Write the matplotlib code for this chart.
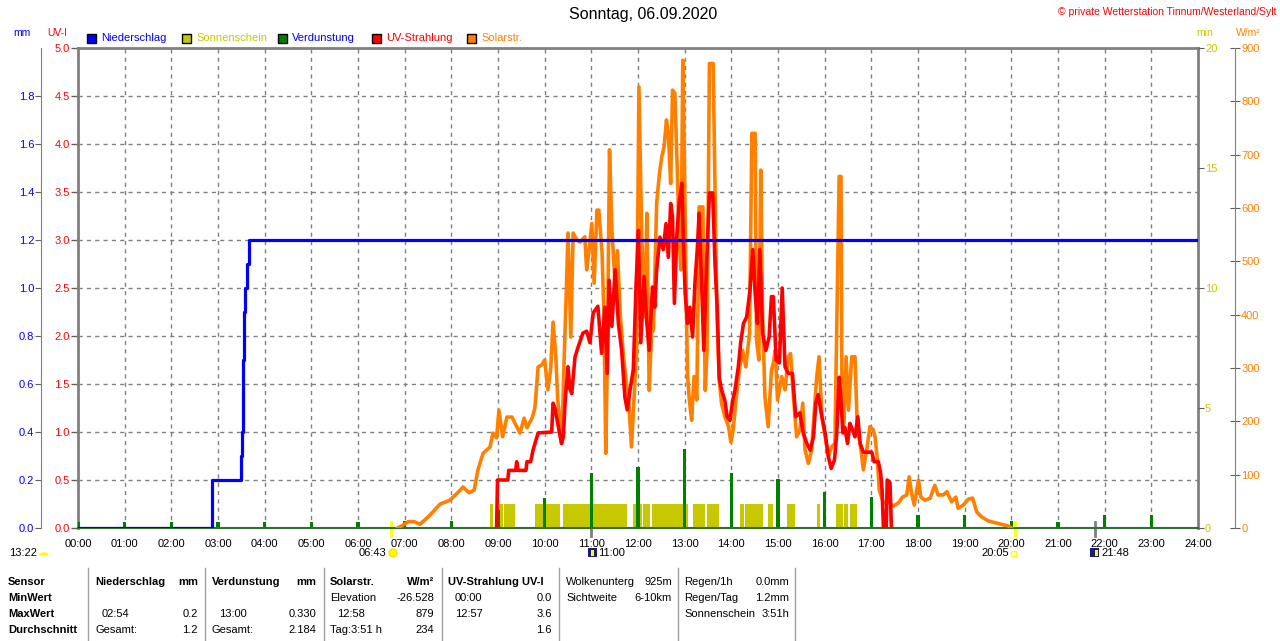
import matplotlib
matplotlib.use('Agg')
import matplotlib.pyplot as plt
import matplotlib.patches as mpatches

plt.rcParams['font.family'] = ['Liberation Sans', 'DejaVu Sans']

# --- Figure geometry (pixels) ---
W, H = 1280, 641
PLOT_L, PLOT_R, PLOT_T, PLOT_B = 78, 1198, 48, 528

# --- Data ---
title = 'Sonntag, 06.09.2020'
copyright_text = '\u00a9 private Wetterstation Tinnum/Westerland/Sylt'
hour_ticks = list(range(25))
hour_labels = [f'{h:02d}:00' for h in hour_ticks]

legend_labels = ['Niederschlag', 'Sonnenschein', 'Verdunstung', 'UV-Strahlung', 'Solarstr.']

# precipitation (mm, cumulative)
rain_t = [0.0, 2.87, 3.486, 3.514, 3.529, 3.551, 3.579, 3.628, 3.658, 24.0]
rain_mm = [0.0, 0.2, 0.3, 0.4, 0.7, 0.9, 1.0, 1.1, 1.2, 1.2]

# evaporation (mm per hour)
evap_t = list(range(24))
evap_mm = [0.025, 0.025, 0.025, 0.025, 0.025, 0.025, 0.025, 0.03, 0.03, 0.075,
           0.125, 0.23, 0.254, 0.33, 0.23, 0.204, 0.15, 0.13, 0.054, 0.054,
           0.03, 0.025, 0.054, 0.054]

# sunshine (min) intervals
sun_start = [8.83, 9.02, 9.13, 9.79, 10.39, 11.89, 12.11, 12.30, 13.18, 13.48,
             14.19, 14.29, 14.79, 15.19, 15.84, 16.24, 16.41, 16.54]
sun_end = [8.89, 9.11, 9.36, 10.33, 11.76, 12.09, 12.26, 13.07, 13.44, 13.74,
           14.27, 14.68, 14.89, 15.36, 15.90, 16.39, 16.50, 16.69]
sun_min = [1] * len(sun_start)

# solar radiation (W/m2)
solar_t = [6.85, 6.92, 7.08, 7.2, 7.33, 7.54, 7.76, 7.97, 8.19, 8.25, 8.38, 8.49,
           8.57, 8.68, 8.83, 8.89, 8.97, 9.02, 9.10, 9.19, 9.30, 9.36, 9.47, 9.56,
           9.62, 9.73, 9.79, 9.86, 9.94, 10.0, 10.07, 10.13, 10.18, 10.24, 10.28,
           10.33, 10.37, 10.41, 10.46, 10.50, 10.56, 10.61, 10.69, 10.76, 10.86,
           10.90, 10.95, 11.01, 11.06, 11.12, 11.16, 11.23, 11.27, 11.31, 11.34,
           11.39, 11.44, 11.50, 11.56, 11.62, 11.68, 11.75, 11.80, 11.86, 11.97,
           12.02, 12.08, 12.15, 12.19, 12.24, 12.29, 12.33, 12.40, 12.46, 12.51,
           12.56, 12.61, 12.65, 12.70, 12.74, 12.79, 12.84, 12.88, 12.92, 12.96,
           12.99, 13.03, 13.06, 13.10, 13.15, 13.20, 13.26, 13.31, 13.39, 13.44,
           13.48, 13.53, 13.61, 13.65, 13.69, 13.74, 13.79, 13.86, 13.94, 13.99,
           14.04, 14.10, 14.17, 14.24, 14.31, 14.39, 14.44, 14.51, 14.54, 14.59,
           14.63, 14.67, 14.72, 14.79, 14.86, 14.90, 14.94, 14.99, 15.08, 15.15,
           15.22, 15.27, 15.33, 15.40, 15.47, 15.53, 15.58, 15.65, 15.72, 15.77,
           15.83, 15.88, 15.94, 16.01, 16.08, 16.15, 16.22, 16.28, 16.31, 16.35,
           16.37, 16.41, 16.46, 16.51, 16.58, 16.65, 16.70, 16.76, 16.83, 16.90,
           16.97, 17.04, 17.08, 17.13, 17.17, 17.26, 17.36, 17.47, 17.58, 17.67,
           17.76, 17.81, 17.86, 17.92, 18.01, 18.06, 18.15, 18.26, 18.36, 18.43,
           18.54, 18.62, 18.72, 18.81, 18.86, 18.97, 19.08, 19.17, 19.26, 19.36,
           19.51, 19.69, 19.83, 19.93, 20.0]
solar_w = [0, 3, 12, 12, 7, 24, 45, 52, 71, 77, 66, 71,
           109, 140, 152, 178, 169, 221, 171, 208, 208, 197, 178, 206,
           188, 206, 225, 302, 306, 315, 259, 300, 386, 321, 240,
           202, 159, 296, 433, 553, 358, 553, 540, 536, 546,
           484, 520, 571, 459, 596, 596, 516, 400, 140, 300,
           709, 560, 470, 520, 400, 330, 272, 240, 152, 333,
           827, 546, 396, 590, 258, 365, 371, 609, 665, 696,
           715, 765, 740, 646, 821, 815, 677, 546, 484, 877,
           715, 459, 290, 240, 202, 284, 240, 602, 602, 258,
           333, 871, 871, 634, 409, 277, 234, 209, 190, 161,
           184, 240, 296, 333, 302, 365, 740, 740, 352, 315,
           671, 396, 246, 190, 296, 309, 333, 240, 284, 259,
           321, 327, 246, 171, 184, 234, 146, 121, 146, 209,
           284, 321, 209, 171, 134, 152, 159, 490, 659, 659,
           271, 196, 321, 221, 321, 321, 184, 159, 109, 146,
           190, 184, 171, 127, 71, 47, 49, 41, 47, 58,
           62, 96, 66, 43, 90, 58, 52, 56, 80, 62,
           62, 68, 49, 58, 37, 43, 54, 56, 30, 21,
           13, 9, 6, 4, 0]

# UV index
uv_t = [8.97, 8.99, 9.21, 9.23, 9.38, 9.40, 9.43, 9.60, 9.62, 9.70, 9.75, 9.86,
        10.15, 10.18, 10.22, 10.27, 10.36, 10.40, 10.44, 10.50, 10.54, 10.58,
        10.65, 10.72, 10.82, 10.90, 10.97, 11.04, 11.14, 11.22, 11.29, 11.34,
        11.38, 11.44, 11.51, 11.58, 11.65, 11.72, 11.77, 11.83, 11.90, 11.96,
        12.01, 12.06, 12.13, 12.19, 12.24, 12.31, 12.36, 12.40, 12.47, 12.54,
        12.60, 12.65, 12.70, 12.74, 12.78, 12.83, 12.88, 12.94, 12.97, 13.01,
        13.06, 13.11, 13.17, 13.22, 13.27, 13.31, 13.37, 13.41, 13.47, 13.53,
        13.60, 13.65, 13.70, 13.74, 13.79, 13.86, 13.91, 13.97, 14.03, 14.08,
        14.15, 14.20, 14.26, 14.33, 14.40, 14.46, 14.51, 14.56, 14.61, 14.67,
        14.74, 14.81, 14.86, 14.90, 14.96, 15.03, 15.09, 15.15, 15.22, 15.31,
        15.38, 15.47, 15.54, 15.61, 15.69, 15.76, 15.81, 15.86, 15.94, 16.01,
        16.08, 16.14, 16.21, 16.26, 16.31, 16.35, 16.39, 16.43, 16.49, 16.54,
        16.60, 16.65, 16.71, 16.76, 16.83, 17.01, 17.06, 17.15, 17.20, 17.23,
        17.26, 17.32, 17.34, 17.40, 17.43]
uv_i = [0.0, 0.5, 0.5, 0.6, 0.6, 0.69, 0.6, 0.6, 0.69, 0.69, 0.81, 0.99,
        1.0, 1.3, 1.25, 1.12, 0.88, 0.95, 1.33, 1.68, 1.45, 1.4,
        1.78, 1.89, 2.03, 2.05, 1.93, 2.24, 2.31, 1.82, 2.3, 1.61,
        2.58, 2.1, 2.69, 2.13, 1.85, 1.36, 1.23, 1.44, 1.65, 2.55,
        3.1, 1.93, 2.62, 2.13, 1.85, 2.51, 2.3, 2.69, 3.03, 2.9,
        3.17, 2.82, 3.38, 3.24, 2.34, 3.03, 3.38, 3.59, 3.03, 2.45,
        2.13, 2.3, 1.99, 2.55, 2.9, 3.28, 2.45, 1.85, 2.76, 3.49,
        3.49, 2.76, 2.27, 1.57, 1.44, 1.33, 1.16, 1.12, 1.33, 1.44,
        1.68, 1.93, 2.13, 2.2, 2.48, 2.9, 2.45, 2.13, 2.9, 2.03,
        1.85, 1.99, 2.41, 2.41, 1.75, 1.72, 2.5, 1.68, 1.61, 1.61,
        1.16, 1.2, 0.99, 0.89, 0.81, 0.95, 1.3, 1.39, 1.16, 0.99,
        0.74, 0.62, 0.71, 0.99, 1.57, 1.33, 0.99, 1.05, 0.88, 1.09,
        1.02, 0.95, 1.16, 0.88, 0.79, 0.79, 0.69, 0.69, 0.57, 0.4,
        0.0, 0.0, 0.5, 0.47, 0.0]

# sun / moon events (hours) and labels
sunrise, sunset = 6.717, 20.083
moonrise, moonset = 11.0, 21.8
event_labels = ['13:22', '06:43', '11:00', '20:05', '21:48']

# statistics table
table_rows = ['Sensor', 'MinWert', 'MaxWert', 'Durchschnitt']
rain_stats = ['Niederschlag', 'mm', '', '', '02:54', '0.2', 'Gesamt:', '1.2']
evap_stats = ['Verdunstung', 'mm', '', '', '13:00', '0.330', 'Gesamt:', '2.184']
solar_stats = ['Solarstr.', 'W/m\u00b2', 'Elevation', '-26.528', '12:58', '879', 'Tag:3:51 h', '234']
uv_stats = ['UV-Strahlung UV-I', '', '00:00', '0.0', '12:57', '3.6', '', '1.6']
cloud_info = [('Wolkenunterg', '925m'), ('Sichtweite', '6-10km')]
rain_info = [('Regen/1h', '0.0mm'), ('Regen/Tag', '1.2mm'), ('Sonnenschein', '3:51h')]

BLUE, OLIVE, GREEN, RED, ORANGE = '#0000ff', '#c8c800', '#008000', '#ff0000', '#ff8000'
GRAY = '#808080'


def fx(px):
    return px / W


def fy(py):
    return 1 - py / H


def txt(x, y, s, ha='left', bold=False, color='black', size=8):
    fig.text(fx(x), fy(y), s, ha=ha, va='center', fontsize=size, color=color,
             fontweight='bold' if bold else 'normal')


fig = plt.figure(figsize=(W / 100, H / 100), dpi=100)
ax = fig.add_axes([fx(PLOT_L), fy(PLOT_B), (PLOT_R - PLOT_L) / W, (PLOT_B - PLOT_T) / H])

# --- main axis: UV scale, grid, frame ---
ax.set_xlim(0, 24)
ax.set_ylim(0, 5)
ax.set_xticks(hour_ticks)
ax.set_xticklabels(hour_labels)
ax.set_yticks([i * 0.5 for i in range(11)])
ax.set_yticklabels([f'{i * 0.5:.1f}' for i in range(11)])
ax.tick_params(axis='x', length=0, pad=8, labelsize=8)
ax.tick_params(axis='y', length=5, width=1, color='#606060', pad=1,
               labelsize=8, labelcolor=RED)
for h in range(1, 24):
    ax.axvline(h, color=GRAY, lw=1, ls=(0, (3, 3)), zorder=0)
for v in range(1, 10):
    ax.axhline(v * 0.5, color=GRAY, lw=1, ls=(0, (3, 3)), zorder=0)
for side in ['top', 'left', 'right']:
    ax.spines[side].set_color(GRAY)
    ax.spines[side].set_linewidth(2)
ax.spines['bottom'].set_visible(False)


def hide_spines(a):
    for s in a.spines.values():
        s.set_visible(False)


# sunshine (min axis, right)
ax_sun = ax.twinx()
hide_spines(ax_sun)
ax_sun.set_ylim(0, 20)
ax_sun.set_yticks([0, 5, 10, 15, 20])
ax_sun.tick_params(axis='y', length=4, color='#606060', pad=1, labelsize=8, labelcolor=OLIVE)
ax_sun.bar(sun_start, sun_min, width=[e - s for s, e in zip(sun_start, sun_end)],
           align='edge', color=OLIVE, linewidth=0)

# evaporation (mm axis, left outward)
ax_mm = ax.twinx()
hide_spines(ax_mm)
ax_mm.set_ylim(0, 2)
ax_mm.yaxis.tick_left()
ax_mm.spines['left'].set_visible(True)
ax_mm.spines['left'].set_position(('outward', 26.6))
ax_mm.spines['left'].set_color(GRAY)
ax_mm.set_yticks([i * 0.2 for i in range(10)])
ax_mm.set_yticklabels([f'{i * 0.2:.1f}' for i in range(10)])
ax_mm.tick_params(axis='y', length=4, color='#606060', pad=1, labelsize=8, labelcolor=BLUE)
ax_mm.bar(evap_t, evap_mm, width=0.065, color=GREEN, linewidth=0)
ax_mm.spines['bottom'].set_visible(True)
ax_mm.spines['bottom'].set_color('#2e6e2e')
ax_mm.spines['bottom'].set_linewidth(1.5)

# solar radiation (W/m2 axis, right outward)
ax_sol = ax.twinx()
hide_spines(ax_sol)
ax_sol.set_ylim(0, 900)
ax_sol.spines['right'].set_visible(True)
ax_sol.spines['right'].set_position(('outward', 26.6))
ax_sol.spines['right'].set_color(GRAY)
ax_sol.set_yticks(range(0, 901, 100))
ax_sol.tick_params(axis='y', direction='inout', length=7, color='#606060', pad=1,
                   labelsize=8, labelcolor=ORANGE)
ax_sol.plot(solar_t, solar_w, color=ORANGE, lw=2.6)

# UV line
ax_uv = ax.twinx()
hide_spines(ax_uv)
ax_uv.set_ylim(0, 5)
ax_uv.set_yticks([])
ax_uv.plot(uv_t, uv_i, color=RED, lw=2.6)

# precipitation line
ax_rain = ax.twinx()
hide_spines(ax_rain)
ax_rain.set_ylim(0, 2)
ax_rain.set_yticks([])
ax_rain.step(rain_t, rain_mm, where='post', color=BLUE, lw=2.3)

# sun / moon marks below the axis
for t, c in [(sunrise, '#ffff00'), (sunset, '#ffff00'), (moonrise, GRAY), (moonset, GRAY)]:
    ax.axvline(t, ymin=-0.017, ymax=0.012, color=c, lw=2, clip_on=False)

# --- header texts ---
txt(643, 15, title, ha='center', size=11.5)
txt(1276, 12, copyright_text, ha='right', color=RED, size=7.5)
txt(22, 33, 'mm', ha='center', color=BLUE, size=7.5)
txt(57, 33, 'UV-I', ha='center', color=RED, size=7.5)
txt(1205, 33, 'min', ha='center', color=OLIVE, size=7.5)
txt(1248, 33, 'W/m\u00b2', ha='center', color=ORANGE, size=7.5)

# legend
leg_x = [87, 182, 278, 372, 467]
leg_box = [BLUE, OLIVE, GREEN, RED, ORANGE]
leg_txt = [BLUE, OLIVE, BLUE, RED, ORANGE]
for x, lab, bc, tc in zip(leg_x, legend_labels, leg_box, leg_txt):
    fig.add_artist(mpatches.Rectangle((fx(x), fy(43)), 9 / W, 9 / H, transform=fig.transFigure,
                                      facecolor=bc, edgecolor='black', lw=1))
    txt(x + 14, 38, lab, color=tc, size=8)

# sun / moon event labels
txt(37, 553, event_labels[0], ha='right')
fig.add_artist(mpatches.Wedge((fx(44), fy(555)), 4 / W, 0, 180, transform=fig.transFigure,
                              facecolor='#ffff00', edgecolor='#ffff00'))
txt(386, 553, event_labels[1], ha='right')
fig.add_artist(mpatches.Ellipse((fx(393), fy(553)), 8 / W, 8 / H, transform=fig.transFigure,
                                facecolor='#ffff00', edgecolor='#ffe000'))
fig.add_artist(mpatches.Rectangle((fx(588), fy(557)), 9 / W, 9 / H, transform=fig.transFigure,
                                  facecolor='#1a1a7a', edgecolor='none'))
fig.add_artist(mpatches.Rectangle((fx(591), fy(556)), 3 / W, 6 / H, transform=fig.transFigure,
                                  facecolor='#ffff00', edgecolor='none'))
txt(598, 553, event_labels[2])
txt(1009, 553, event_labels[3], ha='right')
fig.add_artist(mpatches.Rectangle((fx(1011), fy(556)), 5 / W, 5 / H, transform=fig.transFigure,
                                  facecolor='none', edgecolor='#ffff00', lw=1))
fig.add_artist(mpatches.Rectangle((fx(1090), fy(557)), 9 / W, 9 / H, transform=fig.transFigure,
                                  facecolor='#1a1a7a', edgecolor='none'))
fig.add_artist(mpatches.Rectangle((fx(1095), fy(556)), 3 / W, 6 / H, transform=fig.transFigure,
                                  facecolor='#ffff00', edgecolor='none'))
txt(1101, 553, event_labels[4])

# --- statistics table ---
row_y = [582, 598, 614, 630]
for y, lab in zip(row_y, table_rows):
    txt(8, y, lab, bold=True)
for x in [88, 205, 324, 442, 559, 678, 795]:
    fig.add_artist(plt.Line2D([fx(x), fx(x)], [fy(568), fy(641)], transform=fig.transFigure,
                              color='#a0a0a0', lw=1))


def stat_block(left, right, vals, indent=7):
    txt(left, row_y[0], vals[0], bold=True)
    if vals[1]:
        txt(right, row_y[0], vals[1], ha='right', bold=True)
    for r in range(1, 4):
        lab, val = vals[2 * r], vals[2 * r + 1]
        off = 0 if lab.startswith(('Gesamt', 'Elevation', 'Tag')) else indent
        if lab:
            txt(left + off, row_y[r], lab)
        if val:
            txt(right, row_y[r], val, ha='right')


stat_block(95, 198, rain_stats)
stat_block(212, 316, evap_stats)
stat_block(330, 434, solar_stats)
stat_block(448, 552, uv_stats)
for r, (lab, val) in enumerate(cloud_info):
    txt(566, row_y[r], lab)
    txt(672, row_y[r], val, ha='right')
for r, (lab, val) in enumerate(rain_info):
    txt(684, row_y[r], lab)
    txt(789, row_y[r], val, ha='right')

fig.savefig('out.png', dpi=100)
